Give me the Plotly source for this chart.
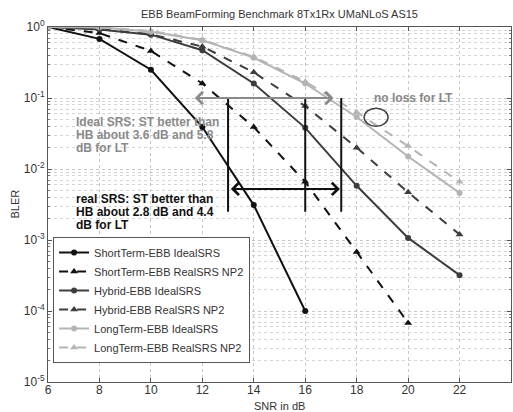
import plotly.graph_objects as go

snr = [6, 8, 10, 12, 14, 16, 18, 20, 22]

st_ideal = [1.0, 0.68, 0.25, 0.039, 0.0031, 0.0001]
st_real = [1.0, 0.82, 0.46, 0.16, 0.039, 0.0066, 0.00068, 0.000068]
hb_ideal = [1.0, 0.92, 0.78, 0.47, 0.16, 0.038, 0.0058, 0.00107, 0.00032]
hb_real = [1.0, 0.93, 0.79, 0.53, 0.23, 0.077, 0.02, 0.0047, 0.0012]
lt_ideal = [1.0, 0.99, 0.86, 0.65, 0.37, 0.16, 0.054, 0.015, 0.0046]
lt_real = [1.0, 0.99, 0.88, 0.66, 0.38, 0.17, 0.063, 0.021, 0.0066]

names = ["ShortTerm-EBB IdealSRS", "ShortTerm-EBB RealSRS NP2",
         "Hybrid-EBB IdealSRS", "Hybrid-EBB RealSRS NP2",
         "LongTerm-EBB IdealSRS", "LongTerm-EBB RealSRS NP2"]
series = [st_ideal, st_real, hb_ideal, hb_real, lt_ideal, lt_real]
colors = ["#111111", "#111111", "#3d3d3d", "#3d3d3d", "#b4b4b4", "#b4b4b4"]
dashes = ["solid", "dash", "solid", "dash", "solid", "dash"]
symbols = ["circle", "triangle-up", "circle", "triangle-up", "circle", "triangle-up"]

x_ticks = [6, 8, 10, 12, 14, 16, 18, 20, 22, 24]
y_ticks = [1e-5, 1e-4, 1e-3, 1e-2, 1e-1, 1]
y_tick_text = ["10<sup>-5</sup>", "10<sup>-4</sup>", "10<sup>-3</sup>",
               "10<sup>-2</sup>", "10<sup>-1</sup>", "10<sup>0</sup>"]

FONT = "Liberation Sans, Arial, sans-serif"

fig = go.Figure()
for name, vals, col, dsh, sym in zip(names, series, colors, dashes, symbols):
    fig.add_trace(go.Scatter(
        x=snr[:len(vals)], y=vals, name=name, mode="lines+markers",
        line=dict(color=col, width=2, dash=dsh),
        marker=dict(symbol=sym, size=7 if sym == "triangle-up" else 6, color=col),
    ))

minor_vals = [m * 10 ** e for e in range(-5, 0) for m in range(2, 10)]

fig.update_layout(
    width=513, height=412,
    margin=dict(l=48, r=2, t=27, b=30),
    paper_bgcolor="white", plot_bgcolor="white",
    font=dict(family=FONT, size=12, color="#333333"),
    title=dict(text="EBB BeamForming Benchmark 8Tx1Rx UMaNLoS AS15",
               font=dict(size=11, color="#333333"),
               x=0.5, xref="paper", xanchor="center",
               y=1 - 14 / 412, yref="container", yanchor="middle"),
    showlegend=True,
    legend=dict(x=0.011, y=(382 - 363) / 355, xanchor="left", yanchor="bottom",
                bgcolor="white", bordercolor="#555555", borderwidth=1,
                font=dict(size=11, color="#333333"), tracegroupgap=0),
    xaxis=dict(range=[6, 24], tickvals=x_ticks, showgrid=True,
               gridcolor="#c8c8c8", griddash="dot", gridwidth=1,
               ticks="inside", ticklen=4, tickcolor="#555",
               showline=True, linecolor="#555", linewidth=1, mirror="ticks",
               zeroline=False, tickfont=dict(size=12, color="#333"),
               ticklabelstandoff=-3),
    yaxis=dict(type="log", range=[-5, 0], tickvals=y_ticks, ticktext=y_tick_text,
               showgrid=True, gridcolor="#c8c8c8", griddash="dot", gridwidth=1,
               ticks="inside", ticklen=4, tickcolor="#555",
               showline=True, linecolor="#555", linewidth=1, mirror="ticks",
               zeroline=False, tickfont=dict(size=12, color="#333"),
               minor=dict(tickvals=minor_vals, showgrid=True, gridcolor="#d4d4d4",
                          griddash="dot", ticks="inside", ticklen=2, tickcolor="#777")),
)

# axis titles
fig.add_annotation(text="SNR in dB", xref="paper", yref="paper", x=0.5, y=-24 / 355,
                   xanchor="center", yanchor="middle", showarrow=False,
                   font=dict(size=11, color="#333"))
fig.add_annotation(text="BLER", xref="paper", yref="paper", x=-34 / 463, y=0.5,
                   xanchor="center", yanchor="middle", showarrow=False, textangle=-90,
                   font=dict(size=11, color="#333"))

# vertical black lines
for xv in [13.0, 16.0, 17.4]:
    fig.add_shape(type="line", xref="x", yref="y", x0=xv, x1=xv, y0=0.1, y1=0.0025,
                  line=dict(color="#111111", width=2))

# gray double arrow (ideal SRS)
fig.add_annotation(x=17.1, y=-1, ax=11.65, ay=-1, xref="x", yref="y", axref="x", ayref="y",
                   text="", showarrow=True, arrowside="end+start", arrowhead=4,
                   startarrowhead=4, arrowsize=1.2, startarrowsize=1.2,
                   arrowwidth=2, arrowcolor="#8a8a8a")
# black double arrow (real SRS)
fig.add_annotation(x=17.35, y=-2.28, ax=13.05, ay=-2.28, xref="x", yref="y", axref="x", ayref="y",
                   text="", showarrow=True, arrowside="end+start", arrowhead=4,
                   startarrowhead=4, arrowsize=1.2, startarrowsize=1.2,
                   arrowwidth=2, arrowcolor="#111111")

# ellipse
fig.add_shape(type="circle", xref="x", yref="y", x0=18.29, x1=19.22, y0=0.040, y1=0.072,
              line=dict(color="#444444", width=1.5))

fig.add_annotation(text="<b>no loss for LT</b>", xref="x", yref="y", x=18.6, y=-1,
                   xanchor="left", yanchor="middle", showarrow=False,
                   font=dict(size=12, color="#888888"))

ideal_lines = ["Ideal SRS: ST better than", "HB about 3.6 dB and 5.8", "dB for LT"]
real_lines = ["real SRS: ST better than", "HB about 2.8 dB and 4.4", "dB for LT"]
for i, t in enumerate(ideal_lines):
    ypx = 122 + 13 * i
    fig.add_annotation(text="<b>" + t + "</b>", xref="paper", yref="paper",
                       x=(74 - 48) / 463, y=(382 - ypx) / 355, xanchor="left", yanchor="middle",
                       showarrow=False, font=dict(size=12, color="#8a8a8a"))
for i, t in enumerate(real_lines):
    ypx = 199 + 13 * i
    fig.add_annotation(text="<b>" + t + "</b>", xref="paper", yref="paper",
                       x=(74 - 48) / 463, y=(382 - ypx) / 355, xanchor="left", yanchor="middle",
                       showarrow=False, font=dict(size=12, color="#111111"))

fig.write_html("out.html")
